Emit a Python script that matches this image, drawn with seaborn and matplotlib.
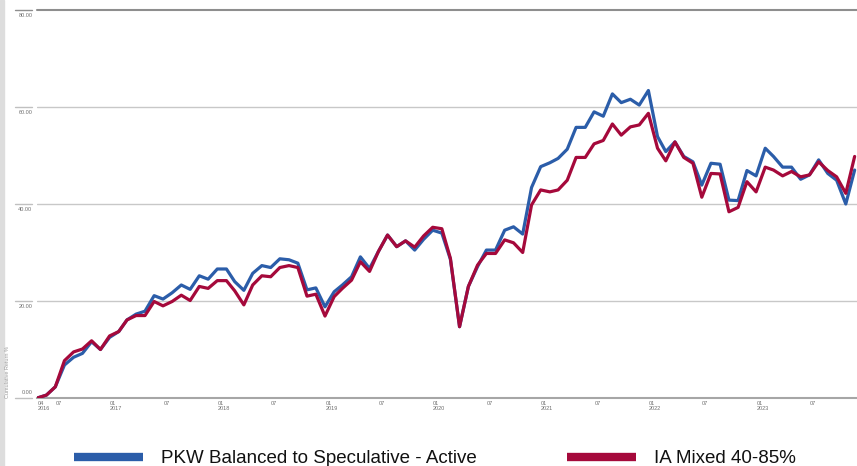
import numpy as np
import pandas as pd
import matplotlib
matplotlib.use("Agg")
import matplotlib.pyplot as plt
import matplotlib.transforms as mtransforms
from matplotlib.patches import Rectangle
import seaborn as sns

# ---------------- data ----------------
first_month_end = "2016-04-30"
series_names = ["PKW Balanced to Speculative - Active", "IA Mixed 40-85%"]

pkw = [0.0, 0.6, 2.3, 6.8, 8.4, 9.2, 11.6, 10.0, 12.5, 13.7,
       16.1, 17.3, 17.9, 21.1, 20.4, 21.7, 23.3, 22.4, 25.2, 24.5,
       26.6, 26.6, 24.0, 22.2, 25.7, 27.3, 26.9, 28.7, 28.5, 27.8,
       22.3, 22.7, 18.8, 21.9, 23.3, 25.0, 29.1, 26.7, 30.2, 33.6,
       31.2, 32.4, 30.5, 32.7, 34.6, 34.0, 28.6, 14.7, 23.0, 27.1,
       30.5, 30.5, 34.6, 35.3, 33.8, 43.4, 47.7, 48.5, 49.4, 51.3,
       55.8, 55.8, 59.0, 58.1, 62.7, 60.9, 61.6, 60.4, 63.4, 53.9,
       50.8, 52.8, 49.8, 48.7, 43.9, 48.4, 48.2, 40.8, 40.7, 46.9,
       45.8, 51.5, 49.8, 47.6, 47.6, 45.1, 46.0, 49.1, 46.3, 44.9,
       40.0, 47.0]

ia = [0.0, 0.6, 2.3, 7.7, 9.5, 10.1, 11.8, 10.0, 12.8, 13.7,
      16.1, 17.0, 17.0, 19.9, 19.0, 19.9, 21.2, 20.1, 23.0, 22.6,
      24.2, 24.2, 22.1, 19.2, 23.3, 25.2, 25.0, 26.9, 27.3, 26.9,
      21.0, 21.4, 16.9, 20.9, 22.6, 24.3, 28.1, 26.1, 30.2, 33.6,
      31.2, 32.4, 31.1, 33.4, 35.2, 34.9, 28.8, 14.7, 23.0, 27.4,
      29.8, 29.8, 32.6, 32.0, 30.0, 39.8, 42.9, 42.5, 42.9, 44.9,
      49.6, 49.6, 52.4, 53.1, 56.5, 54.2, 55.9, 56.3, 58.7, 51.5,
      48.9, 52.8, 49.6, 48.4, 41.4, 46.3, 46.2, 38.4, 39.3, 44.6,
      42.5, 47.6, 47.0, 45.8, 46.7, 45.6, 46.0, 48.7, 46.9, 45.6,
      42.2, 49.8]

y_ticks = [0, 20, 40, 60, 80]
y_tick_labels = ["0.00", "20.00", "40.00", "60.00", "80.00"]

x_tick_dates = ["2016-04-30", "2016-07-01", "2017-01-01", "2017-07-01",
                "2018-01-01", "2018-07-01", "2019-01-01", "2019-07-01",
                "2020-01-01", "2020-07-01", "2021-01-01", "2021-07-01",
                "2022-01-01", "2022-07-01", "2023-01-01", "2023-07-01"]
x_tick_labels = ["04\n2016", "07", "01\n2017", "07", "01\n2018", "07",
                 "01\n2019", "07", "01\n2020", "07", "01\n2021", "07",
                 "01\n2022", "07", "01\n2023", "07"]

# ---------------- frame ----------------
try:
    dates = pd.date_range(first_month_end, periods=len(pkw), freq="ME")
except Exception:
    dates = pd.date_range(first_month_end, periods=len(pkw), freq="M")

df = pd.DataFrame({
    "Date": list(dates) + list(dates),
    "Return": pkw + ia,
    "Series": [series_names[0]] * len(pkw) + [series_names[1]] * len(ia),
})

sns.set_theme(style="white")
plt.rcParams["font.family"] = ["Liberation Sans", "DejaVu Sans"]

W, H = 857, 466
fig = plt.figure(figsize=(W / 100, H / 100), dpi=100)
fig.patches.append(Rectangle((0, 0), 3.5 / W, 1, transform=fig.transFigure,
                             color="#dddddd", zorder=-5))

ax_left, ax_bottom, ax_top = 37.3, 398, 10
ax = fig.add_axes([ax_left / W, (H - ax_bottom) / H, 1 - ax_left / W,
                   (ax_bottom - ax_top) / H])

blue = "#2b5da9"
red = "#a5093b"
sns.lineplot(data=df, x="Date", y="Return", hue="Series",
             hue_order=series_names, palette=[blue, red],
             linewidth=2.3, ax=ax, zorder=3)

ax.set_xlim(dates[0], dates[-1] + pd.Timedelta(days=8))
ax.set_ylim(0, 80)

# grid lines
for v in y_ticks[1:-1]:
    ax.axhline(v, color="#c8c8c8", lw=1.0, zorder=1)
ax.axhline(y_ticks[-1], color="#8e8e8e", lw=1.5, zorder=1, clip_on=False)
for s in ["left", "right", "top"]:
    ax.spines[s].set_visible(False)
ax.spines["bottom"].set_color("#a6a6a6")
ax.spines["bottom"].set_linewidth(1.5)

# little tick stubs left of the axis
stub = ax.get_yaxis_transform()
for v in y_ticks:
    ax.plot([-0.0272, -0.0065], [v, v], transform=stub, clip_on=False,
            color="#8e8e8e" if v == y_ticks[-1] else "#c0c0c0", lw=1.0)

ax.set_yticks(y_ticks)
ax.set_yticklabels(y_tick_labels)
ax.tick_params(axis="y", length=0, pad=3.6, labelsize=4, labelcolor="#6f6f6f")
for i, lab in enumerate(ax.get_yticklabels()):
    if i == 0:
        lab.set_va("bottom")
        lab.set_transform(lab.get_transform() +
                          mtransforms.ScaledTranslation(0, 2 / 72, fig.dpi_scale_trans))
    else:
        lab.set_va("top")
        lab.set_transform(lab.get_transform() +
                          mtransforms.ScaledTranslation(0, -2 / 72, fig.dpi_scale_trans))

ax.set_xticks(pd.to_datetime(x_tick_dates))
ax.set_xticklabels(x_tick_labels, linespacing=1.0)
ax.tick_params(axis="x", length=0, pad=2, labelsize=4, labelcolor="#6f6f6f")
for lab in ax.get_xticklabels():
    lab.set_ha("left")
ax.set_xlabel("")
ax.set_ylabel("")

fig.text(8 / W, (H - ax_bottom) / H, "Cumulative Return %", rotation=90,
         ha="center", va="bottom", fontsize=4, color="#9a9a9a")

sns.move_legend(ax, "center", bbox_to_anchor=(435 / W, 7.5 / H),
                bbox_transform=fig.transFigure, ncol=2, frameon=False,
                title=None, fontsize=13.5, handlelength=3.65,
                handletextpad=0.95, columnspacing=4.85)
leg = ax.get_legend()
for h in leg.legend_handles:
    h.set_linewidth(6)
    h.set_solid_capstyle("butt")
for t in leg.get_texts():
    t.set_color("#111111")

fig.savefig("out.png", dpi=100)
